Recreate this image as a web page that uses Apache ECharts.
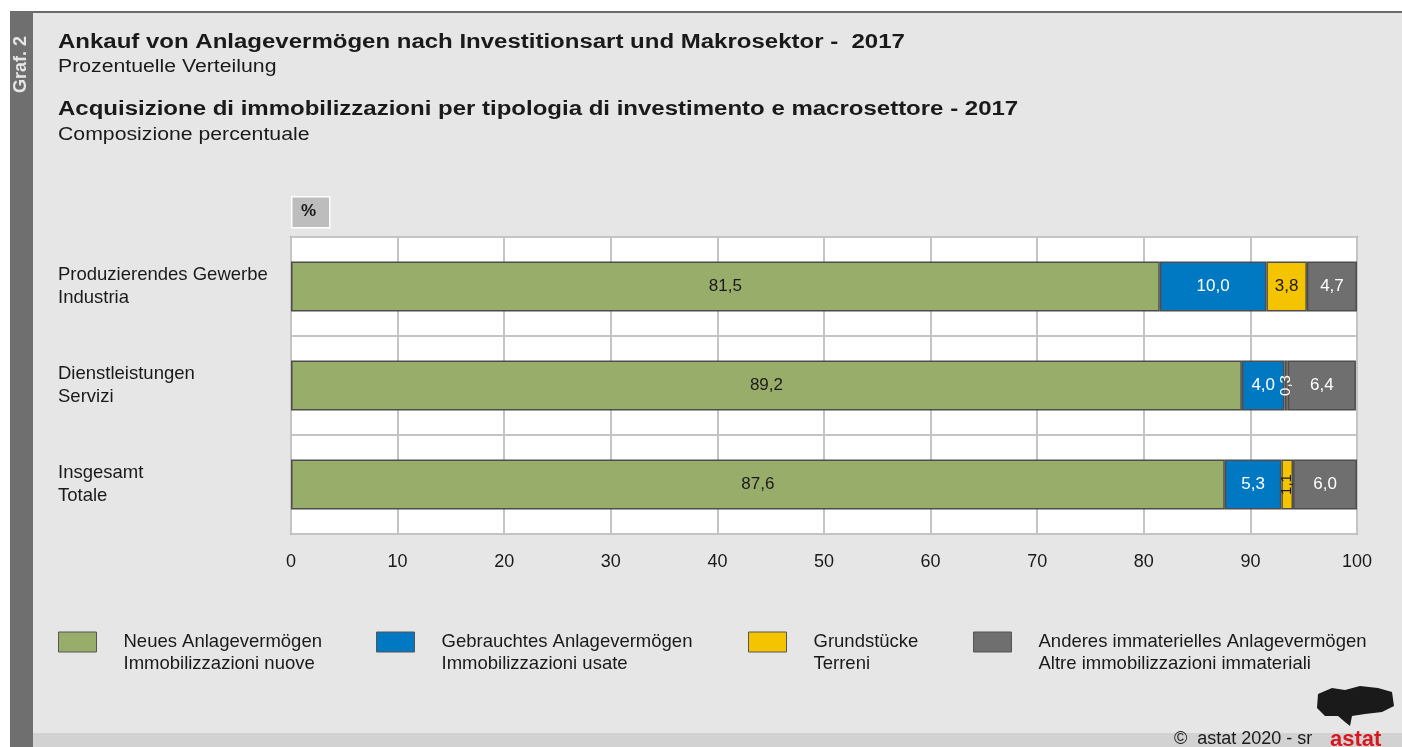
<!DOCTYPE html>
<html>
<head>
<meta charset="utf-8">
<script src="https://cdn.jsdelivr.net/npm/echarts@6/dist/echarts.min.js"></script>
<style>
  html, body { margin: 0; padding: 0; background: #fff; }
  #chart { width: 1402px; height: 747px; }
</style>
</head>
<body>
<div id="chart"></div>
<script>
// categories (top to bottom)
const categories = ['Produzierendes Gewerbe\nIndustria', 'Dienstleistungen\nServizi', 'Insgesamt\nTotale'];
// series values, percent
const neue = [81.5, 89.2, 87.6];
const gebraucht = [10.0, 4.0, 5.3];
const grund = [3.8, 0.3, 1.1];
const andere = [4.7, 6.4, 6.0];
const xTicks = [0, 10, 20, 30, 40, 50, 60, 70, 80, 90, 100];

const names = [
  'Neues Anlagevermögen\nImmobilizzazioni nuove',
  'Gebrauchtes Anlagevermögen\nImmobilizzazioni usate',
  'Grundstücke\nTerreni',
  'Anderes immaterielles Anlagevermögen\nAltre immobilizzazioni immateriali'
];
const colors = ['#99ad6a', '#0079c2', '#f5c400', '#706f6f'];
const labelColors = ['#1a1a1a', '#ffffff', '#1a1a1a', '#ffffff'];
const legendLeft = [58, 376, 748, 973];
const font = 'Liberation Sans, Arial, sans-serif';

const fmt = p => p.value.toFixed(1).replace('.', ',');

function makeSeries(idx, values) {
  return {
    name: names[idx],
    type: 'bar',
    stack: 'total',
    barWidth: 50,
    itemStyle: { color: colors[idx], borderColor: '#4d4d4d', borderWidth: 1.5 },
    label: {
      show: true,
      position: 'inside',
      formatter: fmt,
      color: labelColors[idx],
      fontFamily: font,
      fontSize: 17
    },
    data: values.map(v => {
      // very thin segments get a rotated label
      if (v < 2) {
        return { value: v, label: { rotate: 90, fontSize: 15, color: v < 1 ? '#ffffff' : '#1a1a1a' } };
      }
      return v;
    })
  };
}

// wide-looking text like the original (stretched horizontally)
function wideText(x, y, text, css, sx) {
  return { type: 'text', x: x, y: y, scaleX: sx, style: { text: text, fill: '#1a1a1a', font: css, textAlign: 'left', textVerticalAlign: 'top' } };
}

const chart = echarts.init(document.getElementById('chart'));
chart.setOption({
  backgroundColor: '#e6e6e6',
  animation: false,
  textStyle: { fontFamily: font },
  grid: {
    left: 291, right: 45, top: 237, bottom: 213,
    show: true, backgroundColor: '#ffffff', borderColor: '#6a6a6a', borderWidth: 1.5
  },
  xAxis: {
    type: 'value',
    min: 0, max: 100, interval: 10,
    axisLine: { show: false },
    axisTick: { show: false },
    axisLabel: {
      color: '#1a1a1a', fontSize: 18, margin: 19,
      formatter: v => xTicks.includes(v) ? String(v) : ''
    },
    splitLine: { show: true, lineStyle: { color: '#c4c4c4', width: 2 } }
  },
  yAxis: {
    type: 'category',
    inverse: true,
    data: categories,
    axisLine: { show: false },
    axisTick: { show: false },
    splitLine: { show: true, lineStyle: { color: '#c4c4c4', width: 2 } },
    axisLabel: {
      align: 'left', margin: 233, color: '#1a1a1a', fontSize: 18.5, lineHeight: 23
    }
  },
  // one legend per item; a leading blank line puts the swatch beside the first text line
  legend: names.map((n, i) => ({
    data: [n],
    left: legendLeft[i],
    top: 609,
    padding: 0,
    orient: 'horizontal',
    itemWidth: 38,
    itemHeight: 20,
    selectedMode: false,
    icon: 'rect',
    formatter: name => '\n' + name,
    itemStyle: { borderColor: '#555', borderWidth: 1 },
    textStyle: { color: '#1a1a1a', fontSize: 18.5, lineHeight: 22, padding: [0, 0, 0, 22], fontFamily: font }
  })),
  graphic: [
    { type: 'rect', left: 0, top: 0, shape: { width: 1402, height: 12 }, style: { fill: '#ffffff' } },
    { type: 'rect', left: 0, top: 0, shape: { width: 10, height: 747 }, style: { fill: '#ffffff' } },
    { type: 'rect', left: 10, top: 11, shape: { width: 1392, height: 2 }, style: { fill: '#6b6b6b' } },
    { type: 'rect', left: 10, top: 12, shape: { width: 23, height: 735 }, style: { fill: '#6f6f6f' } },
    {
      type: 'text', x: 21, y: 36, rotation: Math.PI / 2,
      style: { text: 'Graf. 2', fill: '#e6e6e6', font: 'bold 18px ' + font, textAlign: 'right', textVerticalAlign: 'middle' }
    },
    { type: 'rect', left: 33, top: 733, shape: { width: 1369, height: 14 }, style: { fill: '#d2d2d2' } },
    wideText(58, 32, 'Ankauf von Anlagevermögen nach Investitionsart und Makrosektor -  2017', 'bold 20px ' + font, 1.2),
    wideText(58, 58, 'Prozentuelle Verteilung', '18px ' + font, 1.18),
    wideText(58, 99, 'Acquisizione di immobilizzazioni per tipologia di investimento e macrosettore - 2017', 'bold 20px ' + font, 1.2),
    wideText(58, 126, 'Composizione percentuale', '18px ' + font, 1.18),
    { type: 'rect', left: 291, top: 196, shape: { width: 38, height: 31 }, style: { fill: '#bdbdbd', stroke: '#ffffff', lineWidth: 1.5 } },
    { type: 'text', left: 301, top: 203, style: { text: '%', fill: '#1a1a1a', font: 'bold 17px ' + font } },
    { type: 'text', left: 1174, top: 730, style: { text: '©  astat 2020 - sr', fill: '#1a1a1a', font: '18px ' + font } },
    { type: 'text', left: 1330, top: 729, style: { text: 'astat', fill: '#d7191f', font: 'bold 22px ' + font } },
    {
      type: 'polygon',
      shape: { points: [[1318, 694], [1332, 688], [1345, 690], [1360, 686], [1378, 688], [1392, 692], [1394, 706], [1382, 712], [1365, 714], [1352, 716], [1350, 726], [1345, 722], [1338, 716], [1325, 716], [1317, 708]] },
      style: { fill: '#1a1a1a' }
    }
  ],
  series: [
    makeSeries(0, neue),
    makeSeries(1, gebraucht),
    makeSeries(2, grund),
    makeSeries(3, andere)
  ]
});
</script>
</body>
</html>
